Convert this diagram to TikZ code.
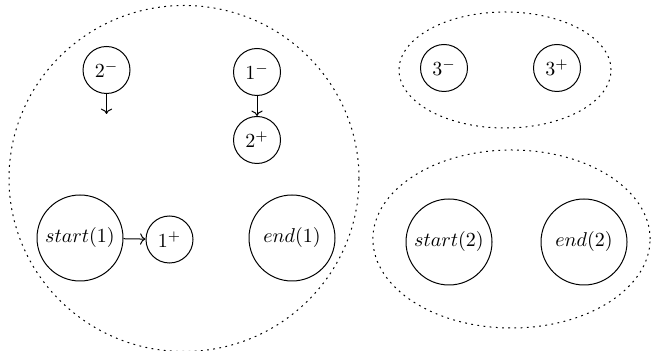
\documentclass[tikz,border=0pt]{standalone}
\usetikzlibrary{arrows.meta}
\begin{document}
\begin{tikzpicture}[x=0.5pt,y=-0.5pt,
  small/.style={circle,draw,line width=0.5pt,minimum size=23.5pt,inner sep=0pt},
  big/.style={circle,draw,line width=0.5pt,minimum size=43pt,inner sep=0pt},
  group/.style={draw,line width=0.5pt,dash pattern=on 0.9pt off 2.2pt},
  conn/.style={->,line width=0.5pt}]
\useasboundingbox (0,0) rectangle (651,351);
\draw[group] (184,178.5) ellipse [x radius=87.5pt, y radius=86.5pt];
\draw[group] (505,70) ellipse [x radius=53pt, y radius=29pt];
\draw[group] (511.5,239) ellipse [x radius=69.3pt, y radius=44.5pt];
\node[small] (m2) at (106.5,70) {$2^-$};
\coordinate (m2end) at (106.5,114);
\node[small] (m1) at (257,72) {$1^-$};
\node[small] (p2) at (257,140) {$2^+$};
\node[big] (s1) at (80,238) {$start(1)$};
\node[small] (p1) at (169.5,239.5) {$1^+$};
\node[big] (e1) at (292,238) {$end(1)$};
\node[small] (m3) at (444,68) {$3^-$};
\node[small] (p3) at (557,68) {$3^+$};
\node[big] (s2) at (449,242) {$start(2)$};
\node[big] (e2) at (584,242) {$end(2)$};
\draw[conn] (m2) -- (m2end);
\draw[conn] (m1) -- (p2);
\draw[conn] (s1) -- (p1);
\end{tikzpicture}
\end{document}
